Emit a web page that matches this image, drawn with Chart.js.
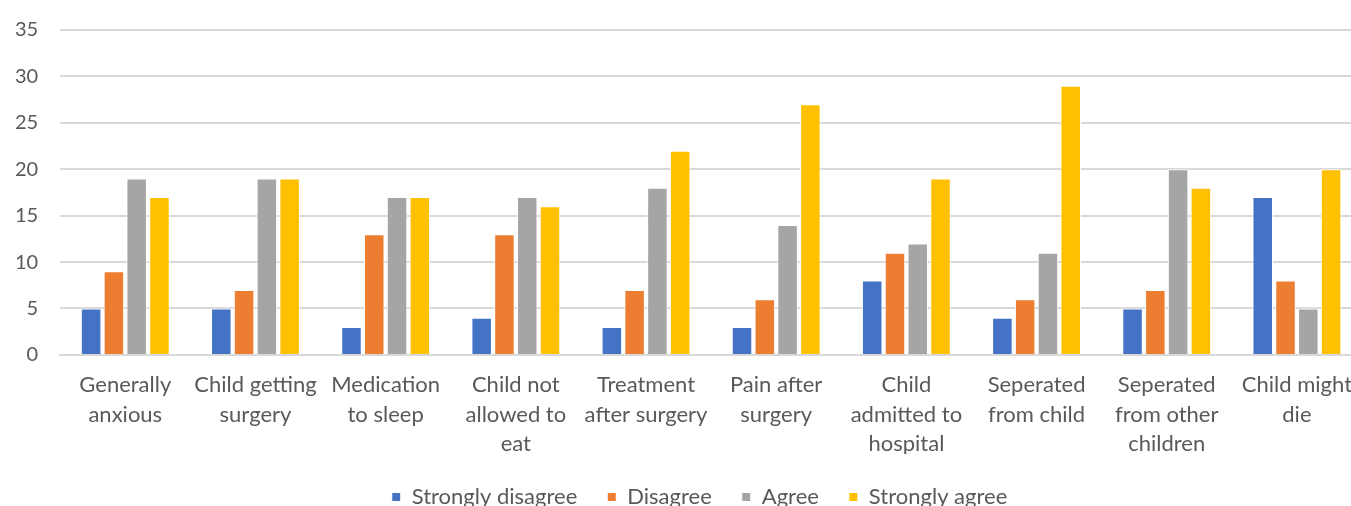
<!DOCTYPE html>
<html>
<head>
<meta charset="utf-8">
<script src="https://cdn.jsdelivr.net/npm/chart.js@4"></script>
<style>
    html, body { margin: 0; padding: 0; background: #fff; overflow: hidden; }
    #wrap { position: relative; width: 1362px; height: 516px; }
</style>
</head>
<body>
<div id="wrap"><canvas id="chart"></canvas></div>
<script>
// categories (multi-line labels)
const categories = [
    ['Generally', 'anxious'],
    ['Child getting', 'surgery'],
    ['Medication', 'to sleep'],
    ['Child not', 'allowed to', 'eat'],
    ['Treatment', 'after surgery'],
    ['Pain after', 'surgery'],
    ['Child', 'admitted to', 'hospital'],
    ['Seperated', 'from child'],
    ['Seperated', 'from other', 'children'],
    ['Child might', 'die']
];

// series values
const stronglyDisagree = [5, 5, 3, 4, 3, 3, 8, 4, 5, 17];
const disagree = [9, 7, 13, 13, 7, 6, 11, 6, 7, 8];
const agree = [19, 19, 17, 17, 18, 14, 12, 11, 20, 5];
const stronglyAgree = [17, 19, 17, 16, 22, 27, 19, 29, 18, 20];

// y axis
const yMax = 35;
const yStep = 5;

const textColor = '#595959';
const fontFamily = 'Lato, "Open Sans", sans-serif';

function series(label, data, color) {
    return {
        label: label,
        data: data,
        backgroundColor: color,
        borderColor: '#ffffff',
        borderWidth: 1,
        borderSkipped: 'bottom',
        categoryPercentage: 0.7,
        barPercentage: 0.9
    };
}

// nudge the legend to where the original sits
const legendShift = {
    id: 'legendShift',
    afterLayout(chart) {
        const lg = chart.legend;
        lg.left += 22;
        lg.right += 22;
        lg.top += 2;
        lg.bottom += 2;
    }
};

new Chart(document.getElementById('chart'), {
    type: 'bar',
    data: {
        labels: categories,
        datasets: [
            series('Strongly disagree', stronglyDisagree, '#4472c4'),
            series('Disagree', disagree, '#ed7d31'),
            series('Agree', agree, '#a5a5a5'),
            series('Strongly agree', stronglyAgree, '#ffc000')
        ]
    },
    plugins: [legendShift],
    options: {
        responsive: true,
        maintainAspectRatio: false,
        animation: false,
        layout: { padding: { top: 30, left: -7, right: 0, bottom: 0 } },
        plugins: {
            tooltip: { enabled: false },
            legend: {
                position: 'bottom',
                labels: {
                    color: textColor,
                    font: { family: fontFamily, size: 22 },
                    boxWidth: 9,
                    boxHeight: 9,
                    padding: 30
                }
            }
        },
        scales: {
            x: {
                grid: { display: false, drawTicks: false },
                border: { color: '#d9d9d9', width: 2 },
                ticks: {
                    color: textColor,
                    font: { family: fontFamily, size: 22, lineHeight: 1.32 },
                    padding: 16,
                    maxRotation: 0,
                    autoSkip: false
                },
                afterFit: (scale) => {
                    scale.height -= 20;
                    scale.paddingLeft = 0;
                    scale.paddingRight = 0;
                }
            },
            y: {
                min: 0,
                max: yMax,
                grid: { color: '#d9d9d9', lineWidth: 2, drawTicks: false },
                border: { display: false },
                ticks: {
                    stepSize: yStep,
                    color: textColor,
                    font: { family: fontFamily, size: 20 },
                    padding: 22
                },
                afterFit: (scale) => {
                    scale.paddingTop = 0;
                    scale.paddingBottom = 0;
                }
            }
        }
    }
});
</script>
</body>
</html>
